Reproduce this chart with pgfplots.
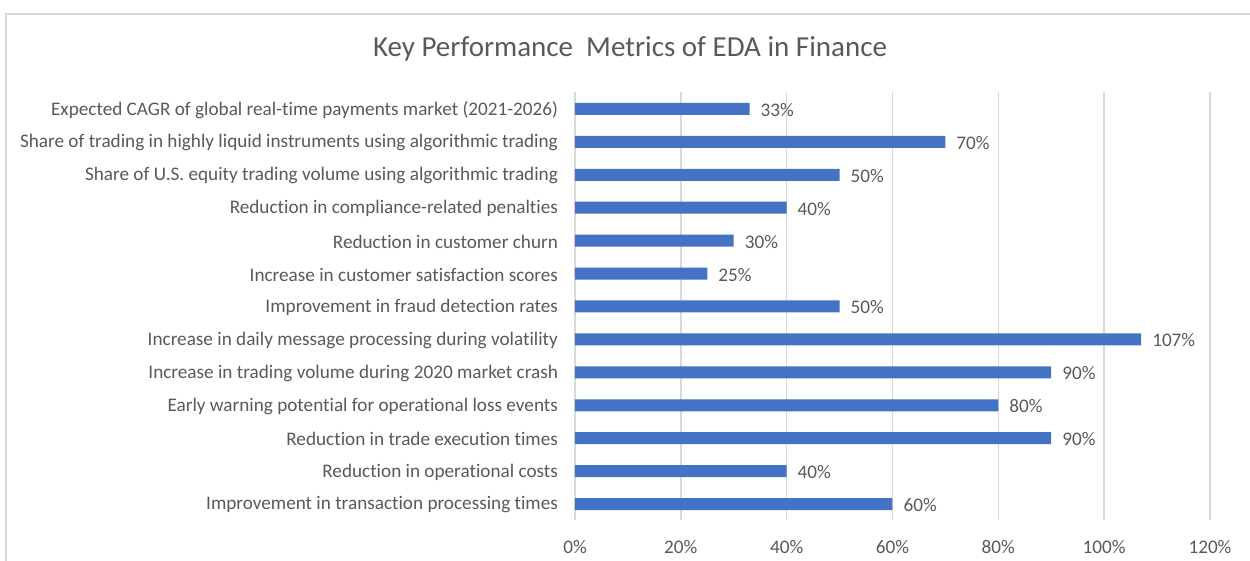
\documentclass[border=0pt]{standalone}
\usepackage{pgfplots}
\pgfplotsset{compat=1.18}
\usepackage{fontspec}
\setmainfont{Carlito}[Ligatures={NoCommon}]
\definecolor{barblue}{HTML}{4472C4}
\definecolor{txtgray}{HTML}{595959}
\definecolor{gridgray}{HTML}{D9D9D9}
\begin{document}
\begin{tikzpicture}[x=1pt,y=1pt]
\useasboundingbox (0,0) rectangle (625,280.5);
\draw[gridgray, line width=1pt] (3,-2) -- (3,273.5) -- (627,273.5);
\node[txtgray, font=\fontsize{14.5}{17}\selectfont] at (315,256) {Key Performance~~Metrics of EDA in Finance};
\begin{axis}[
  at={(287.5pt,20.25pt)}, anchor=south west,
  scale only axis, width=317.5pt, height=214pt,
  xbar, bar width=6pt,
  xmin=0, xmax=120, ymin=-0.5, ymax=12.5,
  xtick={0,20,...,120},
  xticklabel={\pgfmathprintnumber{\tick}\%},
  /pgf/number format/assume math mode=true,
  ytick={0,...,12},
  yticklabels={
    Improvement in transaction processing times,
    Reduction in operational costs,
    Reduction in trade execution times,
    Early warning potential for operational loss events,
    Increase in trading volume during 2020 market crash,
    Increase in daily message processing during volatility,
    Improvement in fraud detection rates,
    Increase in customer satisfaction scores,
    Reduction in customer churn,
    Reduction in compliance-related penalties,
    Share of U.S. equity trading volume using algorithmic trading,
    Share of trading in highly liquid instruments using algorithmic trading,
    Expected CAGR of global real-time payments market (2021-2026)},
  axis line style={draw=none},
  major tick length=0pt,
  xmajorgrids, grid style={gridgray, line width=0.8pt},
  ticklabel style={txtgray, font=\fontsize{9.6}{11}\selectfont},
  yticklabel style={xshift=-5pt, yshift=-0.5pt},
  xticklabel style={yshift=-6.5pt},
  nodes near coords={\pgfmathprintnumber{\pgfplotspointmeta}\%},
  nodes near coords style={txtgray, font=\fontsize{9.6}{11}\selectfont, anchor=west, xshift=2pt, yshift=-0.5pt},
  point meta=explicit,
]
\addplot[fill=barblue, draw=none] table[x=v, y=i, meta=v] {
i v
0 60
1 40
2 90
3 80
4 90
5 107
6 50
7 25
8 30
9 40
10 50
11 70
12 33
};
\end{axis}
\end{tikzpicture}
\end{document}
